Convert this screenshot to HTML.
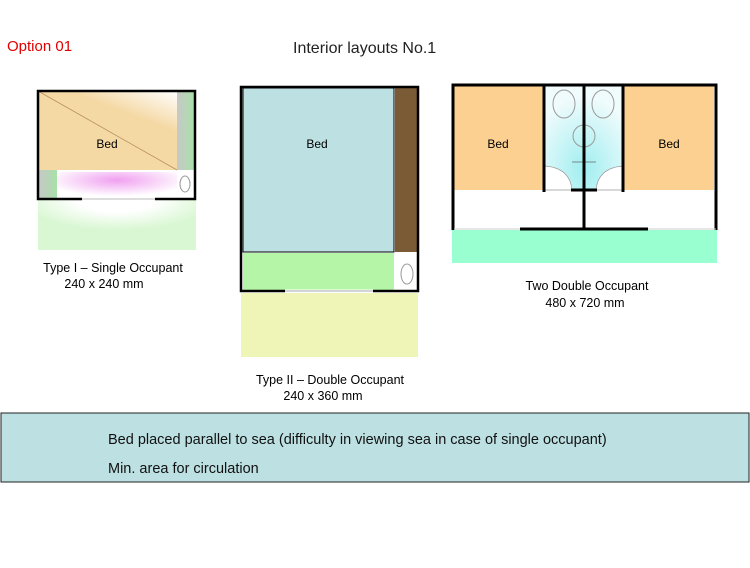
<!DOCTYPE html>
<html><head><style>
body{margin:0;width:750px;height:563px;background:#fff;overflow:hidden;font-family:"Liberation Sans",sans-serif}
</style></head><body>
<svg width="750" height="563" xmlns="http://www.w3.org/2000/svg" font-family="Liberation Sans, sans-serif">
<defs>
<radialGradient id="wr" cx="0.5" cy="0" r="0.6"><stop offset="0.4" stop-color="#fff"/><stop offset="1" stop-color="#d9f7d3"/></radialGradient>
<linearGradient id="bedg" x1="1" y1="0" x2="0.6" y2="0.6"><stop offset="0" stop-color="#fff"/><stop offset="0.6" stop-color="#f5d9a5"/></linearGradient>
<linearGradient id="gs" x1="0" x2="1"><stop offset="0" stop-color="#c8c8c8"/><stop offset="1" stop-color="#a8e0a8"/></linearGradient>
<radialGradient id="pk" cx="0.5" cy="0.3" r="0.6"><stop offset="0" stop-color="#f0a0f0"/><stop offset="1" stop-color="#fff"/></radialGradient>
<radialGradient id="cy" cx="0.5" cy="0.8" r="0.7"><stop offset="0" stop-color="#a0eef0"/><stop offset="1" stop-color="#f0fbfc"/></radialGradient>
</defs>
<text x="7" y="51" font-size="15" fill="#e00000">Option 01</text>
<text x="293" y="53" font-size="16" fill="#222">Interior layouts No.1</text>

<!-- Type I -->
<rect x="38" y="200" width="158" height="50" fill="url(#wr)"/>
<rect x="38" y="91" width="139" height="79" fill="url(#bedg)"/>
<line x1="38" y1="91" x2="177" y2="170" stroke="#b89060" stroke-width="0.8"/>
<rect x="177" y="91" width="17" height="79" fill="url(#gs)"/>
<rect x="38" y="170" width="19" height="29" fill="url(#gs)"/>
<rect x="57" y="172" width="120" height="27" fill="url(#pk)"/>
<ellipse cx="185" cy="184" rx="5" ry="8" fill="none" stroke="#999"/>
<rect x="38" y="91" width="157" height="108" fill="none" stroke="#000" stroke-width="2.5"/>
<line x1="82" y1="199" x2="155" y2="199" stroke="#fff" stroke-width="3"/>
<line x1="82" y1="199" x2="155" y2="199" stroke="#bbb" stroke-width="1"/>
<text x="107" y="148" font-size="12" text-anchor="middle">Bed</text>
<text x="113" y="272" font-size="12.5" text-anchor="middle">Type I – Single Occupant</text>
<text x="104" y="288" font-size="12.5" text-anchor="middle">240 x 240 mm</text>

<!-- Type II -->
<rect x="241" y="293" width="177" height="64" fill="#eff5b7"/>
<rect x="243" y="88" width="151" height="164" fill="#bde0e2" stroke="#000" stroke-width="1"/>
<rect x="395" y="88" width="22" height="164" fill="#7b5a36"/>
<rect x="243" y="253" width="151" height="38" fill="#b5f5a8"/>
<ellipse cx="407" cy="274" rx="6" ry="10" fill="none" stroke="#999"/>
<rect x="241" y="87" width="177" height="204" fill="none" stroke="#000" stroke-width="2.5"/>
<line x1="285" y1="291" x2="373" y2="291" stroke="#fff" stroke-width="3"/>
<line x1="285" y1="291" x2="373" y2="291" stroke="#aaa" stroke-width="1"/>
<text x="317" y="148" font-size="12" text-anchor="middle">Bed</text>
<text x="330" y="384" font-size="12.5" text-anchor="middle">Type II – Double Occupant</text>
<text x="323" y="400" font-size="12.5" text-anchor="middle">240 x 360 mm</text>

<!-- Two double -->
<rect x="452" y="230" width="265" height="33" fill="#99ffd1"/>
<rect x="454" y="86" width="90" height="104" fill="#fbd091"/>
<rect x="624" y="86" width="90" height="104" fill="#fbd091"/>
<rect x="545" y="86" width="78" height="104" fill="url(#cy)"/>
<path d="M545 166 Q570 168 572 190 L545 190Z" fill="#fff" stroke="#999" stroke-width="0.7"/>
<path d="M623 166 Q598 168 596 190 L623 190Z" fill="#fff" stroke="#999" stroke-width="0.7"/>
<ellipse cx="564" cy="104" rx="11" ry="14" fill="none" stroke="#999"/>
<ellipse cx="603" cy="104" rx="11" ry="14" fill="none" stroke="#999"/>
<circle cx="584" cy="136" r="11" fill="none" stroke="#999"/>
<line x1="572" y1="162" x2="596" y2="162" stroke="#666" stroke-width="0.8"/>
<path d="M453 230 V85 H716 V230" fill="none" stroke="#000" stroke-width="3"/>
<line x1="544" y1="85" x2="544" y2="192" stroke="#000" stroke-width="3"/>
<line x1="623" y1="85" x2="623" y2="192" stroke="#000" stroke-width="3"/>
<line x1="584" y1="85" x2="584" y2="230" stroke="#000" stroke-width="3"/>
<line x1="571" y1="190" x2="597" y2="190" stroke="#000" stroke-width="3"/>
<line x1="520" y1="229" x2="648" y2="229" stroke="#000" stroke-width="3"/>
<line x1="454" y1="229" x2="520" y2="229" stroke="#ccc" stroke-width="1"/>
<line x1="648" y1="229" x2="716" y2="229" stroke="#ccc" stroke-width="1"/>
<text x="498" y="148" font-size="12" text-anchor="middle">Bed</text>
<text x="669" y="148" font-size="12" text-anchor="middle">Bed</text>
<text x="587" y="290" font-size="12.5" text-anchor="middle">Two Double Occupant</text>
<text x="585" y="307" font-size="12.5" text-anchor="middle">480 x 720 mm</text>

<!-- text box -->
<rect x="1" y="413" width="748" height="69" fill="#bde0e2" stroke="#222" stroke-width="1"/>
<text x="108" y="444" font-size="14.5" fill="#111">Bed placed parallel to sea (difficulty in viewing sea in case of single occupant)</text>
<text x="108" y="473" font-size="14.5" fill="#111">Min. area for circulation</text>
</svg>
</body></html>
